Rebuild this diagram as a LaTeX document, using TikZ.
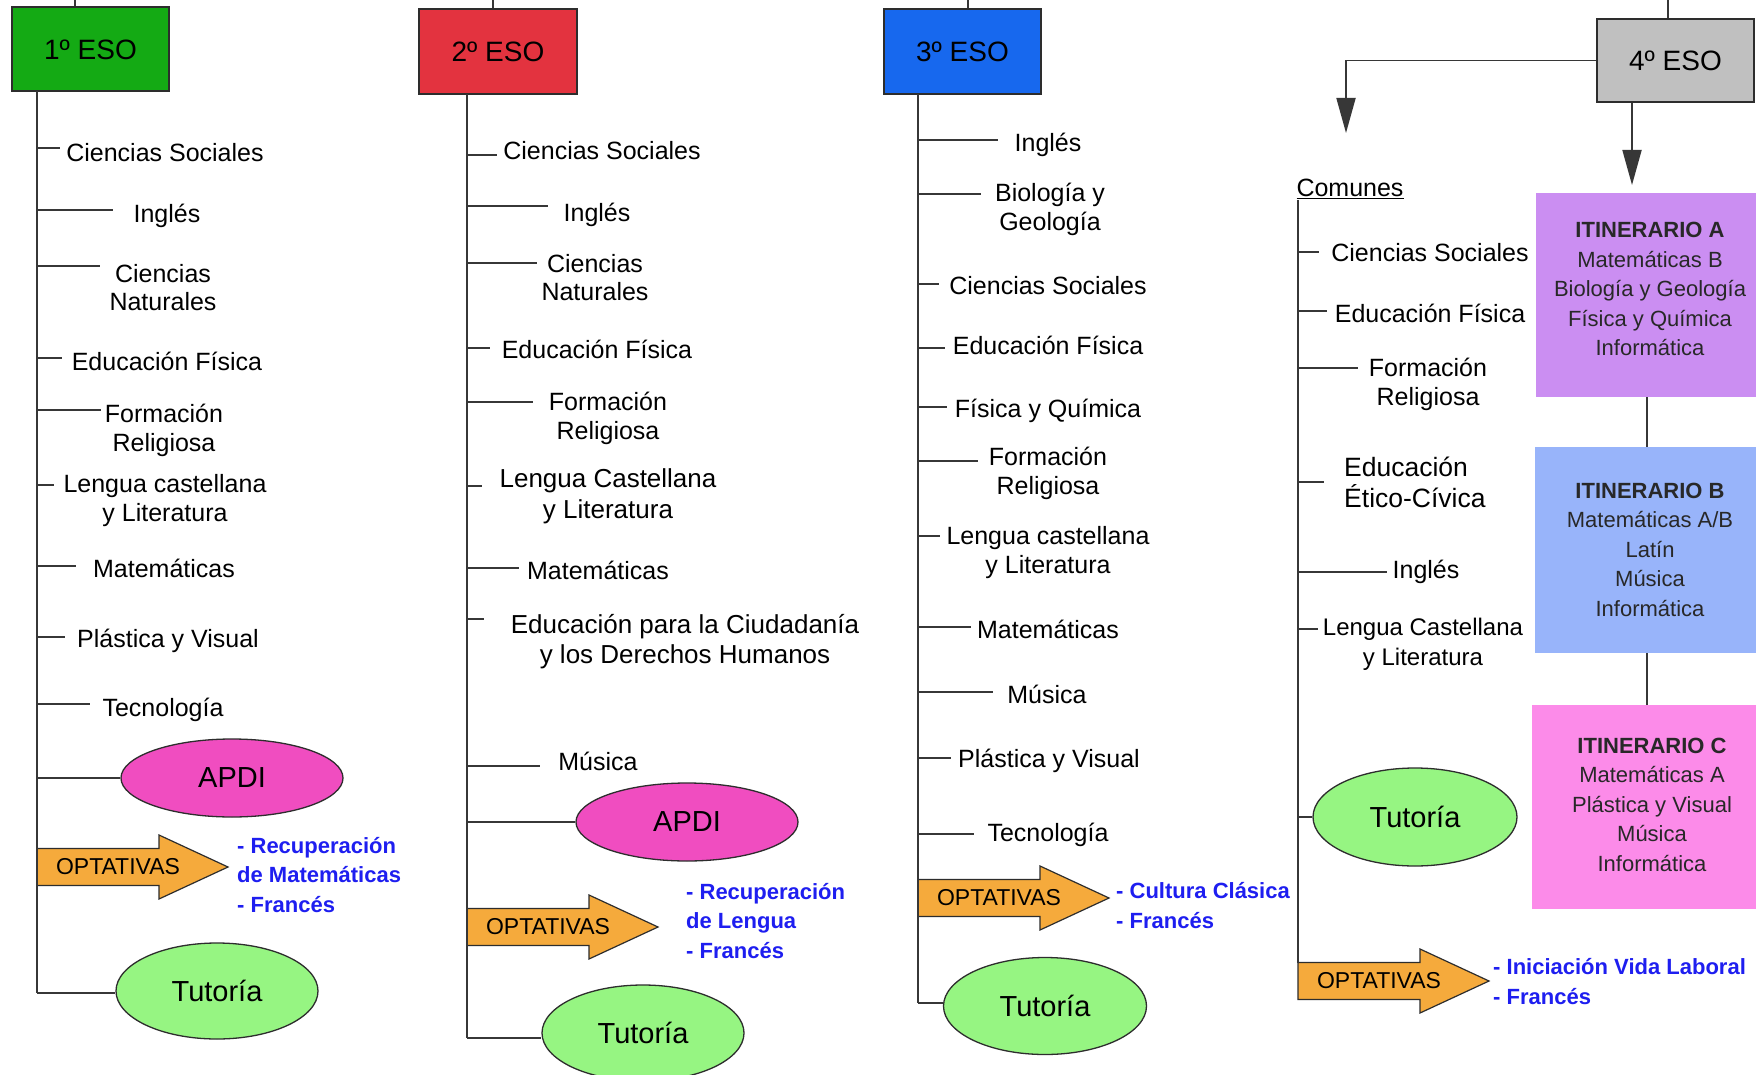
\documentclass[tikz,border=0pt]{standalone}
\usepackage{fontspec}
\setmainfont{Liberation Sans}
\usetikzlibrary{shapes.geometric,arrows.meta}
\definecolor{lineclr}{RGB}{55,55,55}
\definecolor{boxclr}{RGB}{45,45,45}
\definecolor{c1clr}{RGB}{20,170,20}
\definecolor{c2clr}{RGB}{227,51,63}
\definecolor{c3clr}{RGB}{23,104,238}
\definecolor{c4clr}{RGB}{192,192,192}
\definecolor{apdiclr}{RGB}{240,77,192}
\definecolor{tutclr}{RGB}{150,245,130}
\definecolor{optclr}{RGB}{245,170,60}
\definecolor{optblue}{RGB}{30,30,240}
\definecolor{itAclr}{RGB}{203,142,242}
\definecolor{itBclr}{RGB}{152,180,250}
\definecolor{itCclr}{RGB}{252,139,233}
\definecolor{itintxt}{RGB}{40,40,40}
\tikzset{
 conn/.style={draw=lineclr, line width=1.8pt},
 esobox/.style={draw=boxclr, line width=2pt, minimum width=157pt, minimum height=84pt, inner sep=0pt, font=\fontsize{28}{32}\selectfont},
 subj/.style={inner sep=0pt, align=center, yshift=-2.5pt, font=\fontsize{25}{28.5}\selectfont},
 subjL/.style={inner sep=0pt, align=center, yshift=-2.5pt, font=\fontsize{26}{30.5}\selectfont},
 oval/.style={ellipse, draw=boxclr, line width=1.3pt, inner sep=0pt, font=\fontsize{29}{32}\selectfont},
 apdi/.style={oval, fill=apdiclr, minimum width=222pt, minimum height=78pt},
 tutor/.style={oval, fill=tutclr, minimum width=202pt, minimum height=96pt},
 optbody/.style={fill=optclr, draw=boxclr, line width=1.2pt},
 optlabel/.style={inner sep=0pt, font=\fontsize{23}{26}\selectfont},
 optlist/.style={anchor=west, inner sep=0pt, align=left, text=optblue, font=\bfseries\fontsize{22}{29.5}\selectfont},
 itinbox/.style={minimum width=221pt, minimum height=204pt, inner sep=0pt},
 itintext/.style={inner sep=0pt, align=center, text=itintxt, font=\fontsize{22}{29.5}\selectfont},
 downtip/.style={-{Triangle[length=35pt,width=19pt]}}
}
% #1 name, #2 x of left edge, #3 y of axis
\newcommand\optarrow[3]{%
  \path[optbody] (#2,#3-18.5) -- (#2+122,#3-18.5) -- (#2+122,#3-32) -- (#2+191,#3)
     -- (#2+122,#3+32) -- (#2+122,#3+18.5) -- (#2,#3+18.5) -- cycle;
  \node[optlabel] (#1) at (#2+81,#3) {OPTATIVAS};}
\begin{document}
\begin{tikzpicture}[x=1pt,y=-1pt]
\fill[white] (0,0) rectangle (1758,1075);
\useasboundingbox (0,0) rectangle (1758,1075);

%%%%%%%% Column 1
\node[esobox, fill=c1clr] (e1) at (90.5,49.5) {1º ESO};
\coordinate (e1top) at (75,0);
\draw[conn] (e1top) -- (e1top |- e1.north);
\coordinate (t1a) at (37,91);
\coordinate (t1b) at (37,993);
\node[subj] (s1a) at (165,150) {Ciencias Sociales};
\node[subj] (s1b) at (167,213) {Inglés};
\node[subj] (s1c) at (163,285) {Ciencias\\Naturales};
\node[subj] (s1d) at (167,359) {Educación Física};
\node[subj] (s1e) at (164,428) {Formación\\Religiosa};
\node[subj] (s1f) at (165,498) {Lengua castellana\\y Literatura};
\node[subj] (s1g) at (164,566) {Matemáticas};
\node[subj] (s1h) at (168,638) {Plástica y Visual};
\node[subj] (s1i) at (163,707) {Tecnología};
\draw[conn] (37,148) -- (60,148);
\draw[conn] (37,210) -- (113,210);
\draw[conn] (37,266) -- (100,266);
\draw[conn] (37,358) -- (62,358);
\draw[conn] (37,410) -- (101,410);
\draw[conn] (37,485) -- (54,485);
\draw[conn] (37,566) -- (76,566);
\draw[conn] (37,637) -- (65,637);
\draw[conn] (37,704) -- (90,704);
\node[apdi] (ap1) at (232,778) {APDI};
\draw[conn] (ap1.west -| t1a) -- (ap1.west);
\optarrow{op1}{37}{867}
\node[optlist] (ol1) at (237,875) {- Recuperación\\de Matemáticas\\- Francés};
\node[tutor] (tu1) at (217,991) {Tutoría};
\draw[conn] (t1b) -- (tu1.west |- t1b);
\draw[conn] (t1a) -- (t1b);

%%%%%%%% Column 2
\node[esobox, fill=c2clr, minimum height=85pt, minimum width=158pt] (e2) at (498,51.5) {2º ESO};
\coordinate (e2top) at (493,0);
\draw[conn] (e2top) -- (e2top |- e2.north);
\coordinate (t2a) at (467,94);
\coordinate (t2b) at (467,1038);
\node[subj] (s2a) at (602,148) {Ciencias Sociales};
\node[subj] (s2b) at (597,212) {Inglés};
\node[subj] (s2c) at (595,275) {Ciencias\\Naturales};
\node[subj] (s2d) at (597,347) {Educación Física};
\node[subj] (s2e) at (608,416) {Formación\\Religiosa};
\node[subjL] (s2f) at (608,494) {Lengua Castellana\\y Literatura};
\node[subj] (s2g) at (598,568) {Matemáticas};
\node[subjL] (s2h) at (685,639) {Educación para la Ciudadanía\\y los Derechos Humanos};
\node[subj] (s2i) at (598,759) {Música};
\draw[conn] (467,155) -- (497,155);
\draw[conn] (467,206) -- (548,206);
\draw[conn] (467,263) -- (537,263);
\draw[conn] (467,348) -- (490,348);
\draw[conn] (467,402) -- (533,402);
\draw[conn] (467,486) -- (482,486);
\draw[conn] (467,568) -- (519,568);
\draw[conn] (467,619) -- (484,619);
\draw[conn] (467,766) -- (540,766);
\node[apdi] (ap2) at (687,822) {APDI};
\draw[conn] (ap2.west -| t2a) -- (ap2.west);
\optarrow{op2}{467}{927}
\node[optlist] (ol2) at (686,921) {- Recuperación\\de Lengua\\- Francés};
\node[tutor] (tu2) at (643,1033) {Tutoría};
\draw[conn] (t2b) -- (tu2.west |- t2b);
\draw[conn] (t2a) -- (t2b);

%%%%%%%% Column 3
\node[esobox, fill=c3clr, minimum height=85pt] (e3) at (962.5,51.5) {3º ESO};
\coordinate (e3top) at (968,0);
\draw[conn] (e3top) -- (e3top |- e3.north);
\coordinate (t3a) at (918,94);
\coordinate (t3b) at (918,1003);
\node[subj] (s3a) at (1048,142) {Inglés};
\node[subj] (s3b) at (1050,207) {Biología y\\Geología};
\node[subj] (s3c) at (1048,283) {Ciencias Sociales};
\node[subj] (s3d) at (1048,343) {Educación Física};
\node[subj] (s3e) at (1048,408) {Física y Química};
\node[subj] (s3f) at (1048,471) {Formación\\Religiosa};
\node[subj] (s3g) at (1048,550) {Lengua castellana\\y Literatura};
\node[subj] (s3h) at (1048,627) {Matemáticas};
\node[subj] (s3i) at (1047,692) {Música};
\node[subj] (s3j) at (1049,758) {Plástica y Visual};
\node[subj] (s3k) at (1048,832) {Tecnología};
\draw[conn] (918,140) -- (998,140);
\draw[conn] (918,194) -- (981,194);
\draw[conn] (918,284) -- (939,284);
\draw[conn] (918,348) -- (945,348);
\draw[conn] (918,407) -- (947,407);
\draw[conn] (918,461) -- (978,461);
\draw[conn] (918,536) -- (940,536);
\draw[conn] (918,627) -- (971,627);
\draw[conn] (918,692) -- (993,692);
\draw[conn] (918,758) -- (951,758);
\draw[conn] (918,834) -- (974,834);
\optarrow{op3}{918}{898}
\node[optlist] (ol3) at (1116,905.5) {- Cultura Clásica\\- Francés};
\node[tutor, minimum width=203pt, minimum height=97pt] (tu3) at (1045,1006) {Tutoría};
\draw[conn] (t3b) -- (tu3.west |- t3b);
\draw[conn] (t3a) -- (t3b);

%%%%%%%% Column 4
\node[esobox, fill=c4clr, minimum height=83pt] (e4) at (1675.5,60.5) {4º ESO};
\coordinate (e4top) at (1668,0);
\draw[conn] (e4top) -- (e4top |- e4.north);
\coordinate (lt4) at (1346,133);
\coordinate (dt4) at (1632,185);
\draw[conn, downtip] (e4.west) -| (lt4);
\draw[conn, downtip] (e4.south -| dt4) -- (dt4);
\node[inner sep=0pt, font=\fontsize{25}{28}\selectfont] (com) at (1350,189) {\underline{Comunes}};
\coordinate (t4a) at (1298,200);
\coordinate (t4b) at (1298,963);
\node[subj] (s4a) at (1430,250) {Ciencias Sociales};
\node[subj] (s4b) at (1430,311) {Educación Física};
\node[subj] (s4c) at (1428,382) {Formación\\Religiosa};
\node[subjL, align=left, anchor=west, font=\fontsize{26.5}{30.5}\selectfont] (s4d) at (1344,480) {Educación\\Ético-Cívica};
\node[subj] (s4e) at (1426,569) {Inglés};
\node[subjL, font=\fontsize{24}{30}\selectfont] (s4f) at (1423,642) {Lengua Castellana\\y Literatura};
\draw[conn] (1298,252) -- (1319,252);
\draw[conn] (1298,311) -- (1327,311);
\draw[conn] (1298,368) -- (1358,368);
\draw[conn] (1298,482) -- (1324,482);
\draw[conn] (1298,572) -- (1387,572);
\draw[conn] (1298,629) -- (1318,629);
\node[tutor, minimum width=204pt, minimum height=98pt] (tu4) at (1415,817) {Tutoría};
\draw[conn] (tu4.west -| t4a) -- (tu4.west);
\optarrow{op4}{1298}{981}
\node[optlist] (ol4) at (1493,981.5) {- Iniciación Vida Laboral\\- Francés};
\draw[conn] (t4a) -- (t4b);

%%%%%%%% Itinerarios
\node[itinbox, fill=itAclr, minimum width=220pt] (itA) at (1646,295) {};
\node[itintext] (itAt) at (1650,289) {\textbf{ITINERARIO A}\\Matemáticas B\\Biología y Geología\\Física y Química\\Informática};
\node[itinbox, fill=itBclr, minimum height=206pt] (itB) at (1645.5,550) {};
\node[itintext] (itBt) at (1650,549.5) {\textbf{ITINERARIO B}\\Matemáticas A/B\\Latín\\Música\\Informática};
\node[itinbox, fill=itCclr, minimum width=224pt] (itC) at (1644,807) {};
\node[itintext] (itCt) at (1652,804.5) {\textbf{ITINERARIO C}\\Matemáticas A\\Plástica y Visual\\Música\\Informática};
\coordinate (ab) at (1647,0);
\draw[conn] (ab |- itA.south) -- (ab |- itB.north);
\draw[conn] (ab |- itB.south) -- (ab |- itC.north);
\end{tikzpicture}
\end{document}
